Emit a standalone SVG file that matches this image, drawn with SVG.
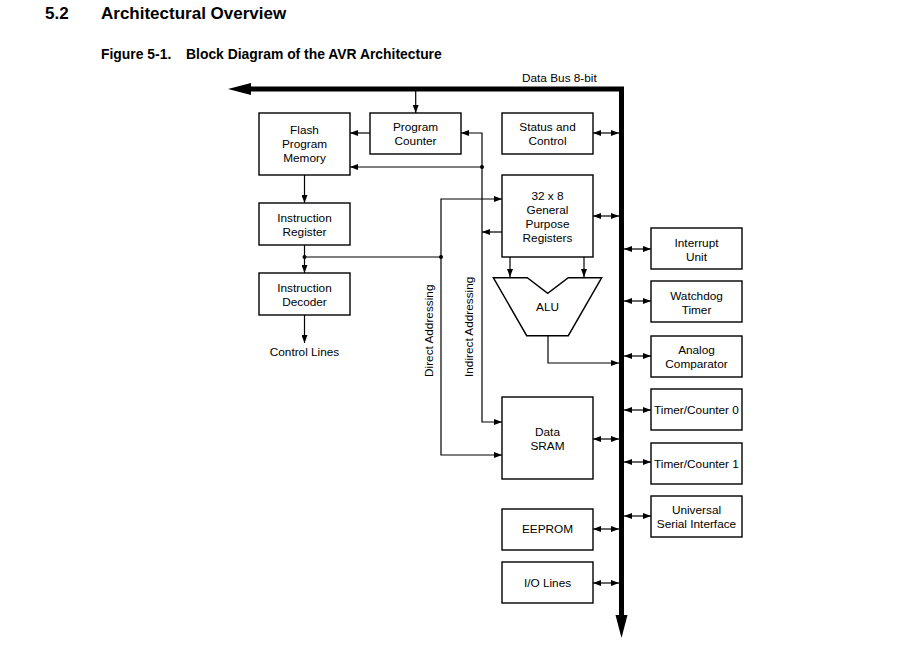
<svg xmlns="http://www.w3.org/2000/svg" width="915" height="653" viewBox="0 0 915 653">
<style>
  text { font-family: "Liberation Sans", Arial, sans-serif; fill: #000; }
  .t { font-size: 11.8px; text-anchor: middle; }
  .s { font-size: 11.8px; }
  .box { fill: #fff; stroke: #000; stroke-width: 1.4; }
  .ln { fill: none; stroke: #000; stroke-width: 1.2; }
  .a { marker-end: url(#ah); }
  .aa { marker-start: url(#ah); marker-end: url(#ah); }
  .h1 { font-size: 17px; font-weight: bold; }
  .h2 { font-size: 13.9px; font-weight: bold; }
</style>
<defs>
  <marker id="ah" markerUnits="userSpaceOnUse" markerWidth="8" markerHeight="6" refX="8" refY="3" orient="auto-start-reverse">
    <path d="M0,0 L8,3 L0,6 Z" fill="#000"/>
  </marker>
</defs>
<rect width="915" height="653" fill="#fff"/>

<text class="h1" x="45" y="19">5.2</text>
<text class="h1" x="101" y="19">Architectural Overview</text>
<text class="h2" x="101" y="59">Figure 5-1.</text>
<text class="h2" x="186" y="59">Block Diagram of the AVR Architecture</text>

<g id="connectors">
  <!-- data bus -->
  <polyline points="250,89 621.5,89 621.5,617" fill="none" stroke="#000" stroke-width="5"/>
  <polygon points="228,89 251,83 251,95" fill="#000"/>
  <polygon points="621.5,638 615.5,615 627.5,615" fill="#000"/>
  <text class="s" x="522" y="82">Data Bus 8-bit</text>

  <line class="ln a" x1="415.7" y1="91" x2="415.7" y2="113"/>
  <line class="ln a" x1="370" y1="133" x2="350" y2="133"/>
  <path class="ln aa" d="M461,133 H482 V422 H502"/>
  <line class="ln a" x1="482" y1="167" x2="350" y2="167"/>
  <circle cx="482" cy="167" r="2"/>
  <line class="ln a" x1="502" y1="232" x2="482" y2="232"/>

  <line class="ln a" x1="304.5" y1="175" x2="304.5" y2="203"/>
  <line class="ln a" x1="304.5" y1="245" x2="304.5" y2="273"/>
  <circle cx="304.5" cy="257" r="2"/>
  <line class="ln" x1="304.5" y1="257" x2="441" y2="257"/>
  <circle cx="441" cy="257" r="2"/>
  <path class="ln aa" d="M502,199 H441 V455 H502"/>
  <line class="ln a" x1="304.5" y1="315" x2="304.5" y2="343"/>

  <line class="ln a" x1="510" y1="257" x2="510" y2="277"/>
  <line class="ln a" x1="584" y1="257" x2="584" y2="277"/>
  <path class="ln a" d="M548,336 V363 H619"/>

  <line class="ln aa" x1="593" y1="133" x2="619" y2="133"/>
  <line class="ln aa" x1="593" y1="216" x2="619" y2="216"/>
  <line class="ln aa" x1="593" y1="439" x2="619" y2="439"/>
  <line class="ln aa" x1="593" y1="529" x2="619" y2="529"/>
  <line class="ln aa" x1="593" y1="583" x2="619" y2="583"/>

  <line class="ln aa" x1="624" y1="249" x2="651" y2="249"/>
  <line class="ln aa" x1="624" y1="301" x2="651" y2="301"/>
  <line class="ln aa" x1="624" y1="356" x2="651" y2="356"/>
  <line class="ln aa" x1="624" y1="410" x2="651" y2="410"/>
  <line class="ln aa" x1="624" y1="462" x2="651" y2="462"/>
  <line class="ln aa" x1="624" y1="516" x2="651" y2="516"/>

  <text class="s" x="433" y="377" transform="rotate(-90 433 377)">Direct Addressing</text>
  <text class="s" x="473" y="377" transform="rotate(-90 473 377)">Indirect Addressing</text>
  <text class="t" x="304.5" y="356">Control Lines</text>
</g>

<g id="flash"><rect class="box" x="259" y="113" width="91" height="62"/>
  <text class="t" x="304.5" y="134">Flash</text><text class="t" x="304.5" y="148">Program</text><text class="t" x="304.5" y="162">Memory</text></g>
<g id="pc"><rect class="box" x="370" y="113" width="91" height="41"/>
  <text class="t" x="415.5" y="131">Program</text><text class="t" x="415.5" y="145">Counter</text></g>
<g id="status"><rect class="box" x="502" y="113" width="91" height="41"/>
  <text class="t" x="547.5" y="131">Status and</text><text class="t" x="547.5" y="145">Control</text></g>
<g id="regs"><rect class="box" x="502" y="175" width="91" height="82"/>
  <text class="t" x="547.5" y="200">32 x 8</text><text class="t" x="547.5" y="214">General</text><text class="t" x="547.5" y="228">Purpose</text><text class="t" x="547.5" y="242">Registers</text></g>
<g id="ir"><rect class="box" x="259" y="203" width="91" height="42"/>
  <text class="t" x="304.5" y="222">Instruction</text><text class="t" x="304.5" y="236">Register</text></g>
<g id="id"><rect class="box" x="259" y="273" width="91" height="42"/>
  <text class="t" x="304.5" y="292">Instruction</text><text class="t" x="304.5" y="306">Decoder</text></g>
<g id="alu"><polygon class="box" points="493.3,277.7 527.3,277.7 547.7,293.3 568.3,277.7 601.7,277.7 568.3,335.7 526.7,335.7"/>
  <text class="t" x="547.5" y="311">ALU</text></g>
<g id="sram"><rect class="box" x="502" y="397" width="91" height="82"/>
  <text class="t" x="547.5" y="436">Data</text><text class="t" x="547.5" y="450">SRAM</text></g>
<g id="eeprom"><rect class="box" x="502" y="509" width="91" height="41"/>
  <text class="t" x="547.5" y="533">EEPROM</text></g>
<g id="io"><rect class="box" x="502" y="562" width="91" height="41"/>
  <text class="t" x="547.5" y="587">I/O Lines</text></g>

<g id="interrupt"><rect class="box" x="651" y="228" width="91" height="41"/>
  <text class="t" x="696.5" y="247">Interrupt</text><text class="t" x="696.5" y="261">Unit</text></g>
<g id="watchdog"><rect class="box" x="651" y="281" width="91" height="41"/>
  <text class="t" x="696.5" y="300">Watchdog</text><text class="t" x="696.5" y="314">Timer</text></g>
<g id="analog"><rect class="box" x="651" y="336" width="91" height="41"/>
  <text class="t" x="696.5" y="354">Analog</text><text class="t" x="696.5" y="368">Comparator</text></g>
<g id="timer0"><rect class="box" x="651" y="389" width="91" height="41"/>
  <text class="t" x="696.5" y="414">Timer/Counter 0</text></g>
<g id="timer1"><rect class="box" x="651" y="443" width="91" height="41"/>
  <text class="t" x="696.5" y="468">Timer/Counter 1</text></g>
<g id="usi"><rect class="box" x="651" y="496" width="91" height="41"/>
  <text class="t" x="696.5" y="514">Universal</text><text class="t" x="696.5" y="528">Serial Interface</text></g>
</svg>
